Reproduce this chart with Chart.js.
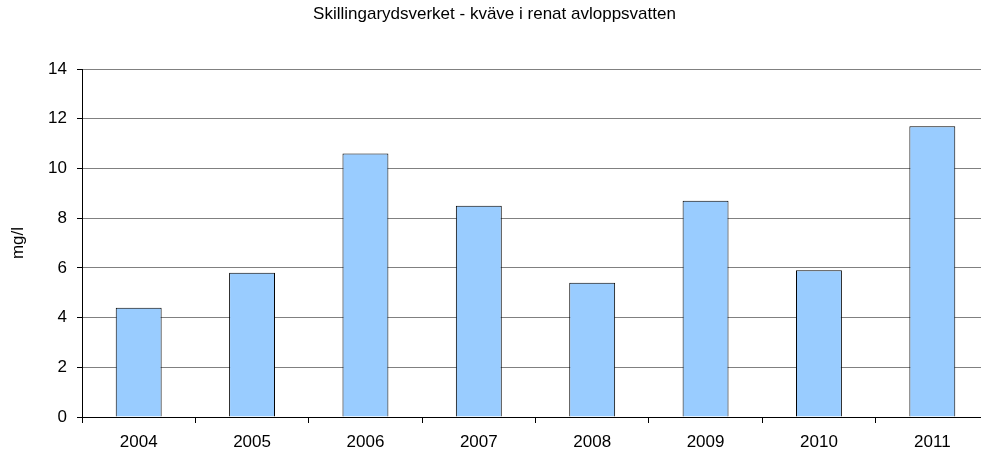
<!DOCTYPE html>
<html>
<head>
<meta charset="utf-8">
<script src="https://cdn.jsdelivr.net/npm/chart.js@4"></script>
<style>
    html, body { margin: 0; padding: 0; background: #fff; overflow: hidden; }
    #wrap { width: 990px; height: 452px; }
</style>
</head>
<body>
<div id="wrap"><canvas id="chart" width="990" height="452"></canvas></div>
<script>
// Nitrogen in treated waste water, mg/l per year
const years = ['2004', '2005', '2006', '2007', '2008', '2009', '2010', '2011'];
const nitrogen = [4.4, 5.8, 10.6, 8.5, 5.4, 8.7, 5.9, 11.7];
const yTicks = [0, 2, 4, 6, 8, 10, 12, 14];

const fontFamily = '"Liberation Sans", Arial, sans-serif';

new Chart(document.getElementById('chart').getContext('2d'), {
    type: 'bar',
    data: {
        labels: years,
        datasets: [{
            data: nitrogen,
            backgroundColor: '#99ccff',
            borderColor: '#000000',
            borderWidth: 1,
            categoryPercentage: 1,
            barPercentage: 0.405
        }]
    },
    options: {
        responsive: false,
        animation: false,
        layout: { padding: { left: 0, right: 1, top: 0, bottom: 0 } },
        scales: {
            x: {
                grid: {
                    drawOnChartArea: false,
                    drawTicks: true,
                    tickLength: 6,
                    tickColor: '#000'
                },
                border: { color: '#000', width: 1 },
                ticks: {
                    color: '#000',
                    padding: 9,
                    font: { family: fontFamily, size: 17 }
                },
                afterFit: s => { s.height = 35; }
            },
            y: {
                min: 0,
                max: 14,
                afterBuildTicks: s => { s.ticks = yTicks.map(v => ({ value: v })); },
                grid: {
                    color: '#808080',
                    tickLength: 5,
                    tickColor: '#000'
                },
                border: { color: '#000', width: 1 },
                ticks: {
                    color: '#000',
                    padding: 10,
                    font: { family: fontFamily, size: 17 }
                },
                title: {
                    display: true,
                    text: 'mg/l',
                    color: '#000',
                    padding: { top: 8, bottom: 0 },
                    font: { family: fontFamily, size: 17 }
                },
                afterFit: s => { s.width = 82; }
            }
        },
        plugins: {
            legend: { display: false },
            tooltip: { enabled: false },
            title: {
                display: true,
                text: 'Skillingarydsverket - kväve i renat avloppsvatten',
                color: '#000',
                font: { family: fontFamily, size: 17, weight: 'normal' },
                padding: { top: 4, bottom: 44.6 }
            }
        }
    }
});
</script>
</body>
</html>
